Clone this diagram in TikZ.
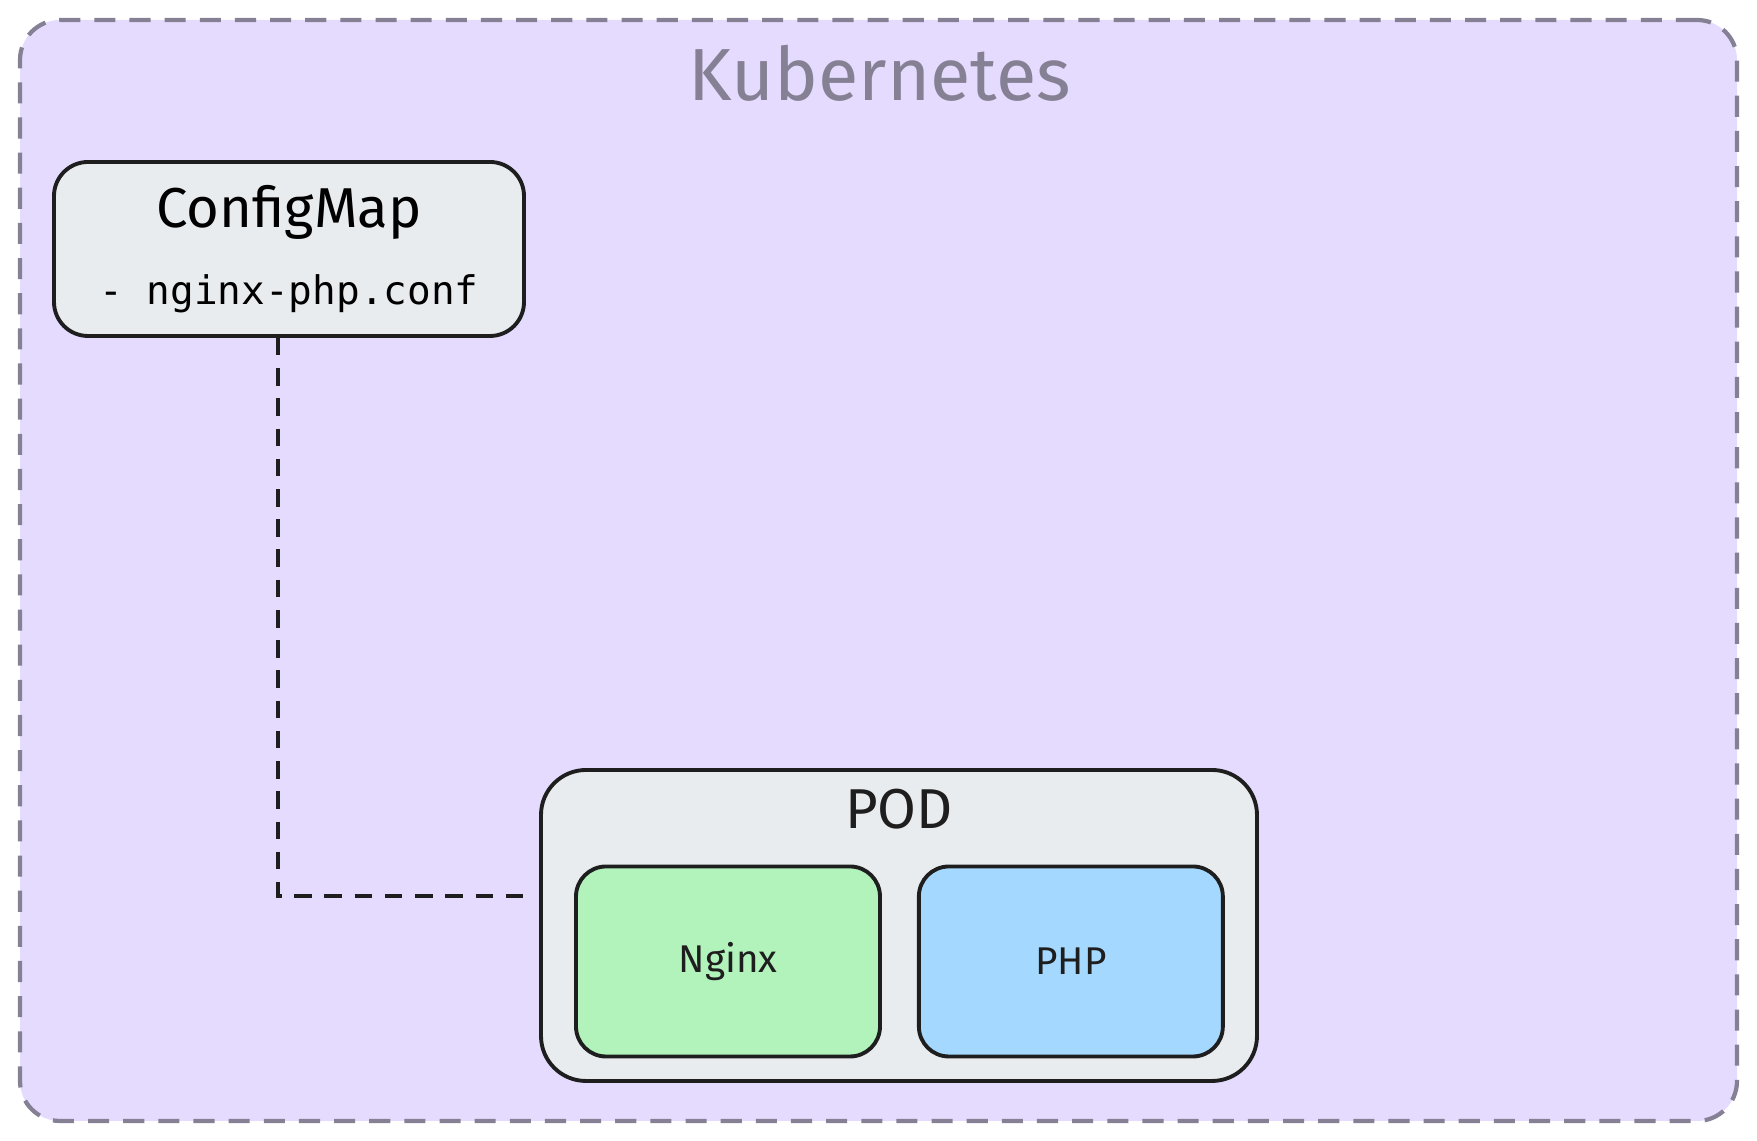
\documentclass[tikz,border=0pt]{standalone}
\usepackage{fontspec}
\setsansfont{Fira Sans}
\setmonofont{DejaVu Sans Mono}
\usetikzlibrary{positioning}
\definecolor{Ink}{HTML}{1E1E1E}
\definecolor{Lilac}{HTML}{E5DBFF}
\definecolor{Frame}{HTML}{858094}
\definecolor{Cloud}{HTML}{E9ECEF}
\definecolor{Mint}{HTML}{B2F2BB}
\definecolor{Sky}{HTML}{A5D8FF}
\tikzset{
  cluster/.style={draw=Frame,fill=Lilac,line width=1.2pt,dash pattern=on 6pt off 4pt,rounded corners=.4cm,minimum width=17.17cm,minimum height=11.01cm},
  clustername/.style={text=Frame,font=\sffamily\fontsize{21}{25}\selectfont},
  box/.style={draw=Ink,fill=Cloud,line width=1.1pt,rounded corners=.34cm,align=center,font=\ttfamily\fontsize{11.2}{13}\selectfont},
  pod/.style={box,rounded corners=.45cm,minimum width=7.16cm,minimum height=3.11cm},
  container/.style={draw=Ink,line width=1.1pt,rounded corners=.3cm,minimum width=3.04cm,minimum height=1.9cm,text=Ink,font=\sffamily\fontsize{11}{13}\selectfont},
  title/.style={text=Ink,inner sep=0pt,font=\sffamily\fontsize{16}{19}\selectfont},
  mount/.style={draw=Ink,line width=1.1pt,dash pattern=on 5pt off 3.6pt}
}
\newcommand{\titlefont}{\sffamily\fontsize{16}{19}\selectfont}
\begin{document}
\begin{tikzpicture}
  \useasboundingbox (0,0) rectangle (17.57,11.41);
  \node[cluster] (cluster) at (8.785,5.705) {};
  \node[clustername] (k8s) at (8.80,10.68) {Kubernetes};
  \node[box,minimum width=4.70cm,minimum height=1.74cm] (cfg) at (2.89,8.92) {{\titlefont ConfigMap}\\[9pt]- nginx-php.conf};
  \node[pod] (pod) at (8.99,2.155) {};
  \node[title,below=.2cm of pod.north] (podname) {POD};
  \node[container,fill=Mint] (nginx) at (7.28,1.795) {Nginx};
  \node[container,fill=Sky,right=.35cm of nginx] (php) {PHP};
  \draw[mount,shorten >=.07cm] ([xshift=-.11cm]cfg.south) |- ([yshift=.295cm]pod.west);
\end{tikzpicture}
\end{document}
